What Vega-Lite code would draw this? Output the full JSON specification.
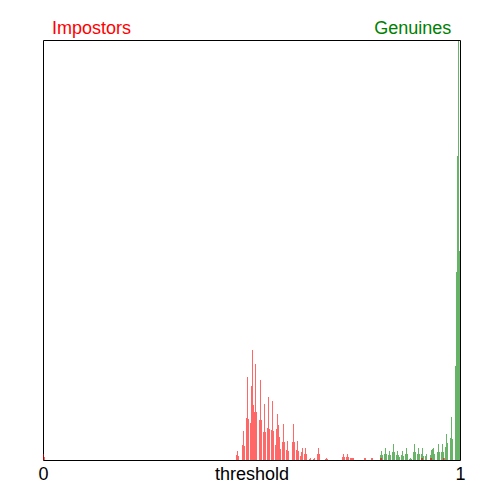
{
  "$schema": "https://vega.github.io/schema/vega-lite/v6.json",
  "width": 417,
  "height": 420,
  "autosize": "none",
  "padding": {"left": 43, "top": 40, "right": 40, "bottom": 40},
  "background": "white",
  "config": {
    "view": {"stroke": "black", "strokeWidth": 1},
    "font": "Liberation Sans",
    "scale": {"continuousPadding": 0}
  },
  "datasets": {
    "genuines": [
      {"t": 0.8094, "n": 5}, {"t": 0.8118, "n": 9}, {"t": 0.8141, "n": 5},
      {"t": 0.8189, "n": 6}, {"t": 0.8213, "n": 12}, {"t": 0.8237, "n": 6},
      {"t": 0.8285, "n": 5}, {"t": 0.8309, "n": 9}, {"t": 0.8333, "n": 5},
      {"t": 0.8381, "n": 8}, {"t": 0.8405, "n": 16}, {"t": 0.8429, "n": 8},
      {"t": 0.8477, "n": 5}, {"t": 0.8501, "n": 9}, {"t": 0.8525, "n": 5}, {"t": 0.8549, "n": 3},
      {"t": 0.8597, "n": 5}, {"t": 0.8621, "n": 9}, {"t": 0.8645, "n": 4},
      {"t": 0.8693, "n": 6}, {"t": 0.8717, "n": 12}, {"t": 0.8741, "n": 6},
      {"t": 0.8789, "n": 1}, {"t": 0.8813, "n": 2}, {"t": 0.8837, "n": 1},
      {"t": 0.8885, "n": 8}, {"t": 0.8909, "n": 16}, {"t": 0.8933, "n": 8},
      {"t": 0.8981, "n": 6}, {"t": 0.9005, "n": 12}, {"t": 0.9029, "n": 6},
      {"t": 0.9077, "n": 6}, {"t": 0.9101, "n": 12}, {"t": 0.9125, "n": 4},
      {"t": 0.9173, "n": 4}, {"t": 0.9197, "n": 6},
      {"t": 0.9293, "n": 5}, {"t": 0.9317, "n": 10}, {"t": 0.9341, "n": 11}, {"t": 0.9365, "n": 12}, {"t": 0.9388, "n": 6},
      {"t": 0.9460, "n": 8}, {"t": 0.9484, "n": 16}, {"t": 0.9508, "n": 8},
      {"t": 0.9556, "n": 8}, {"t": 0.9580, "n": 16}, {"t": 0.9604, "n": 8},
      {"t": 0.9652, "n": 13}, {"t": 0.9676, "n": 26}, {"t": 0.9700, "n": 17},
      {"t": 0.9772, "n": 22}, {"t": 0.9796, "n": 43}, {"t": 0.9820, "n": 21},
      {"t": 0.9892, "n": 94}, {"t": 0.9916, "n": 188}, {"t": 0.9940, "n": 304},
      {"t": 0.9964, "n": 419}, {"t": 0.9988, "n": 209}
    ],
    "impostors": [
      {"t": 0.0012, "n": 6}, {"t": 0.0036, "n": 3},
      {"t": 0.4640, "n": 5}, {"t": 0.4664, "n": 9}, {"t": 0.4688, "n": 4},
      {"t": 0.4784, "n": 15}, {"t": 0.4808, "n": 29}, {"t": 0.4832, "n": 14},
      {"t": 0.4880, "n": 42}, {"t": 0.4904, "n": 83}, {"t": 0.4928, "n": 41},
      {"t": 0.4976, "n": 37}, {"t": 0.5000, "n": 74}, {"t": 0.5024, "n": 110},
      {"t": 0.5048, "n": 55}, {"t": 0.5072, "n": 48}, {"t": 0.5096, "n": 96}, {"t": 0.5120, "n": 48},
      {"t": 0.5192, "n": 40}, {"t": 0.5216, "n": 80}, {"t": 0.5240, "n": 40},
      {"t": 0.5288, "n": 28}, {"t": 0.5312, "n": 56}, {"t": 0.5336, "n": 28},
      {"t": 0.5384, "n": 32}, {"t": 0.5408, "n": 63}, {"t": 0.5432, "n": 31},
      {"t": 0.5480, "n": 30}, {"t": 0.5504, "n": 59}, {"t": 0.5528, "n": 29},
      {"t": 0.5576, "n": 15}, {"t": 0.5600, "n": 31}, {"t": 0.5624, "n": 46},
      {"t": 0.5648, "n": 35}, {"t": 0.5671, "n": 23}, {"t": 0.5695, "n": 11},
      {"t": 0.5743, "n": 18}, {"t": 0.5767, "n": 36}, {"t": 0.5791, "n": 18},
      {"t": 0.5839, "n": 10}, {"t": 0.5863, "n": 19}, {"t": 0.5887, "n": 9},
      {"t": 0.5983, "n": 18}, {"t": 0.6007, "n": 36}, {"t": 0.6031, "n": 18},
      {"t": 0.6079, "n": 10}, {"t": 0.6103, "n": 19}, {"t": 0.6127, "n": 9},
      {"t": 0.6175, "n": 4}, {"t": 0.6199, "n": 8}, {"t": 0.6223, "n": 12},
      {"t": 0.6271, "n": 6}, {"t": 0.6295, "n": 12}, {"t": 0.6319, "n": 6},
      {"t": 0.6391, "n": 1}, {"t": 0.6415, "n": 2},
      {"t": 0.6487, "n": 1}, {"t": 0.6511, "n": 2},
      {"t": 0.6583, "n": 6}, {"t": 0.6607, "n": 12}, {"t": 0.6631, "n": 6},
      {"t": 0.6775, "n": 1}, {"t": 0.6799, "n": 2}, {"t": 0.6823, "n": 1},
      {"t": 0.7182, "n": 3}, {"t": 0.7206, "n": 6}, {"t": 0.7230, "n": 3},
      {"t": 0.7278, "n": 3}, {"t": 0.7302, "n": 6}, {"t": 0.7326, "n": 3},
      {"t": 0.7374, "n": 2}, {"t": 0.7398, "n": 2}, {"t": 0.7422, "n": 2}, {"t": 0.7446, "n": 2},
      {"t": 0.7710, "n": 2}, {"t": 0.7734, "n": 2},
      {"t": 0.7878, "n": 2}, {"t": 0.7902, "n": 2},
      {"t": 0.8094, "n": 2}, {"t": 0.8118, "n": 2},
      {"t": 0.9077, "n": 2}, {"t": 0.9101, "n": 2},
      {"t": 0.9293, "n": 2}, {"t": 0.9317, "n": 2},
      {"t": 0.9604, "n": 2}, {"t": 0.9628, "n": 2}
    ],
    "labels": [
      {"label": "Impostors", "t": 0.0216, "n": 426},
      {"label": "Genuines", "t": 0.979, "n": 426}
    ]
  },
  "layer": [
    {
      "data": {"name": "genuines"},
      "mark": {"type": "bar", "width": 1, "color": "#008000", "opacity": 0.6},
      "encoding": {
        "x": {
          "field": "t", "type": "quantitative",
          "scale": {"domain": [0, 1], "nice": false, "zero": false, "padding": 0},
          "axis": {
            "values": [0, 1], "format": "d", "title": "threshold",
            "domain": false, "ticks": false, "tickSize": 0, "grid": false,
            "labelFontSize": 18, "labelColor": "black", "labelPadding": 19,
            "labelBaseline": "alphabetic", "labelFlush": false, "labelOverlap": false, "labelBound": false,
            "titleFontSize": 18, "titleFontWeight": "normal", "titleColor": "black",
            "titleBaseline": "alphabetic", "titleY": 19
          }
        },
        "y": {"field": "n", "type": "quantitative", "scale": {"domain": [0, 420], "nice": false}, "axis": null}
      }
    },
    {
      "data": {"name": "impostors"},
      "mark": {"type": "bar", "width": 1, "color": "#FF0000", "opacity": 0.6},
      "encoding": {
        "x": {"field": "t", "type": "quantitative"},
        "y": {"field": "n", "type": "quantitative"}
      }
    },
    {
      "data": {"name": "labels"},
      "transform": [{"filter": "datum.label == 'Impostors'"}],
      "mark": {"type": "text", "align": "left", "baseline": "alphabetic", "fontSize": 18, "color": "#FF0000"},
      "encoding": {
        "x": {"field": "t", "type": "quantitative"},
        "y": {"field": "n", "type": "quantitative"},
        "text": {"field": "label"}
      }
    },
    {
      "data": {"name": "labels"},
      "transform": [{"filter": "datum.label == 'Genuines'"}],
      "mark": {"type": "text", "align": "right", "baseline": "alphabetic", "fontSize": 18, "color": "#008000"},
      "encoding": {
        "x": {"field": "t", "type": "quantitative"},
        "y": {"field": "n", "type": "quantitative"},
        "text": {"field": "label"}
      }
    }
  ]
}
